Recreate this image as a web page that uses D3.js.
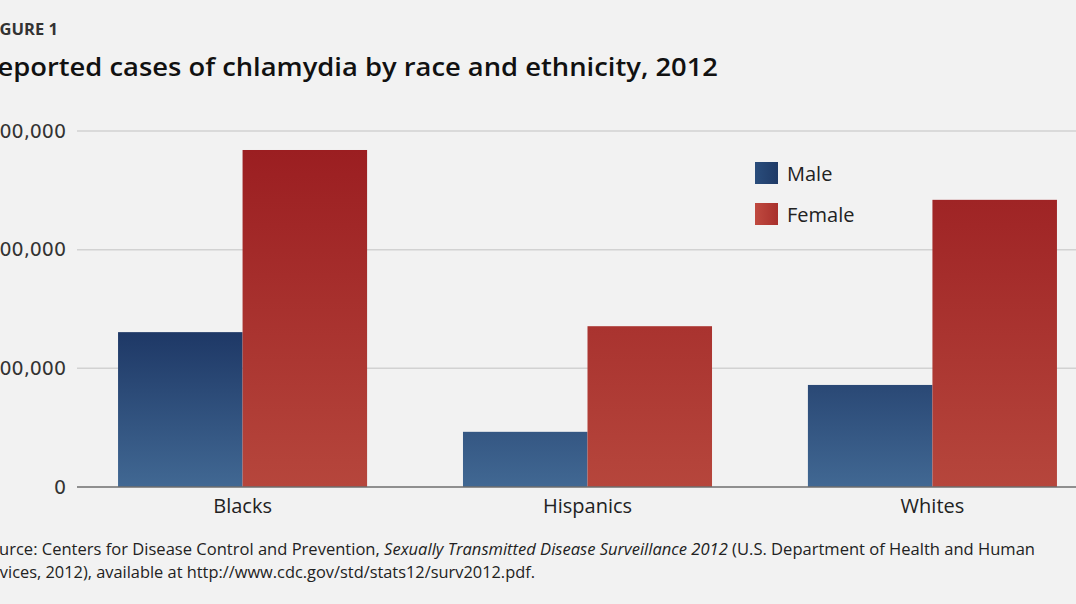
<!DOCTYPE html>
<html><head><meta charset="utf-8">
<script src="https://cdn.jsdelivr.net/npm/d3@7"></script>
<style>html,body{margin:0;padding:0;background:#f2f2f2;overflow:hidden}</style>
</head><body>
<script>
const categories = ["Blacks", "Hispanics", "Whites"];
const seriesNames = ["Male", "Female"];
const maleValues = [130500, 46500, 86000];
const femaleValues = [284000, 135500, 242000];
const yTicks = [0, 100000, 200000, 300000];

const W = 1076, H = 604;
const svg = d3.select("body").append("svg").attr("width", W).attr("height", H)
  .style("background", "#f2f2f2");

const y = d3.scaleLinear().domain([0, 300000]).range([487, 131]);
const x0 = d3.scaleBand().domain(categories).range([77, 1098]).paddingInner(0.278).paddingOuter(0.119);
const x1 = d3.scaleBand().domain(seriesNames).range([0, x0.bandwidth()]);

const defs = svg.append("defs");
function grad(id, top, c0, c1) {
  const g = defs.append("linearGradient").attr("id", id).attr("gradientUnits", "userSpaceOnUse")
    .attr("x1", 0).attr("x2", 0).attr("y1", top).attr("y2", y(0));
  g.append("stop").attr("offset", 0).attr("stop-color", c0);
  g.append("stop").attr("offset", 1).attr("stop-color", c1);
}
grad("gMale", y(d3.max(maleValues)), "#1e3866", "#416893");
grad("gFemale", y(d3.max(femaleValues)), "#9b1e21", "#b6463c");
const lg = defs.append("linearGradient").attr("id", "lgMale");
lg.append("stop").attr("offset", 0).attr("stop-color", "#2a4d7c");
lg.append("stop").attr("offset", 1).attr("stop-color", "#1f3a66");
const lf = defs.append("linearGradient").attr("id", "lgFemale");
lf.append("stop").attr("offset", 0).attr("stop-color", "#c04a40");
lf.append("stop").attr("offset", 1).attr("stop-color", "#a8302c");

// title
svg.append("text").attr("x", -15).attr("y", 35).text("FIGURE 1")
  .attr("font-family", "Open Sans, sans-serif").attr("font-weight", 700).attr("font-size", 16).attr("fill", "#333")
  .attr("textLength", 73).attr("lengthAdjust", "spacingAndGlyphs");
svg.append("text").attr("x", -20).attr("y", 76).text("Reported cases of chlamydia by race and ethnicity, 2012")
  .attr("font-family", "Open Sans, sans-serif").attr("font-weight", 600).attr("font-size", 26).attr("fill", "#111")
  .attr("textLength", 738).attr("lengthAdjust", "spacingAndGlyphs");

// y axis labels
const yAxis = d3.axisLeft(y).tickValues(yTicks).tickSize(0).tickPadding(11)
  .tickFormat(d3.format(","));
const ga = svg.append("g").attr("transform", "translate(77,0)").call(yAxis);
ga.select(".domain").remove();
ga.selectAll("text").attr("font-family", "DejaVu Sans, sans-serif").attr("font-size", 19).attr("fill", "#333");

// grid
svg.append("g").selectAll("line").data(yTicks.filter(d => d > 0)).join("line")
  .attr("x1", 77).attr("x2", W).attr("y1", d => y(d)).attr("y2", d => y(d))
  .attr("stroke", "#d2d2d2").attr("stroke-width", 1.5);

// bars
const data = categories.map((c, i) => ({ c, vals: [{ s: "Male", v: maleValues[i] }, { s: "Female", v: femaleValues[i] }] }));
const groups = svg.append("g").selectAll("g").data(data).join("g")
  .attr("transform", d => `translate(${x0(d.c)},0)`);
groups.selectAll("rect").data(d => d.vals).join("rect")
  .attr("x", d => x1(d.s)).attr("width", x1.bandwidth())
  .attr("y", d => y(d.v)).attr("height", d => y(0) - y(d.v))
  .attr("fill", d => d.s === "Male" ? "url(#gMale)" : "url(#gFemale)");

// baseline
svg.append("line").attr("x1", 77).attr("x2", W).attr("y1", y(0)).attr("y2", y(0))
  .attr("stroke", "#6e6e6e").attr("stroke-width", 1.5);

// category labels
const xAxis = d3.axisBottom(x0).tickSize(0).tickPadding(12);
const gx = svg.append("g").attr("transform", `translate(0,${y(0)})`).call(xAxis);
gx.select(".domain").remove();
gx.selectAll("text").attr("font-family", "Open Sans, sans-serif").attr("font-size", 20).attr("fill", "#222");

// legend
const legend = svg.append("g").selectAll("g").data(seriesNames).join("g")
  .attr("transform", (d, i) => `translate(755,${162 + i * 41})`);
legend.append("rect").attr("width", 23).attr("height", 22)
  .attr("fill", d => d === "Male" ? "url(#lgMale)" : "url(#lgFemale)");
legend.append("text").attr("x", 32).attr("y", 19).text(d => d)
  .attr("font-family", "Open Sans, sans-serif").attr("font-size", 20).attr("fill", "#222");

// source
const s1 = svg.append("text").attr("x", -20).attr("y", 555)
  .attr("font-family", "Open Sans, sans-serif").attr("font-size", 16.5).attr("fill", "#222")
  .attr("textLength", 1055).attr("lengthAdjust", "spacingAndGlyphs");
s1.append("tspan").text("Source: Centers for Disease Control and Prevention, ");
s1.append("tspan").attr("font-style", "italic").text("Sexually Transmitted Disease Surveillance 2012");
s1.append("tspan").text(" (U.S. Department of Health and Human");
svg.append("text").attr("x", -25).attr("y", 578)
  .attr("font-family", "Open Sans, sans-serif").attr("font-size", 16.5).attr("fill", "#222")
  .attr("textLength", 560).attr("lengthAdjust", "spacingAndGlyphs")
  .text("Services, 2012), available at http://www.cdc.gov/std/stats12/surv2012.pdf.");
</script>
</body></html>
